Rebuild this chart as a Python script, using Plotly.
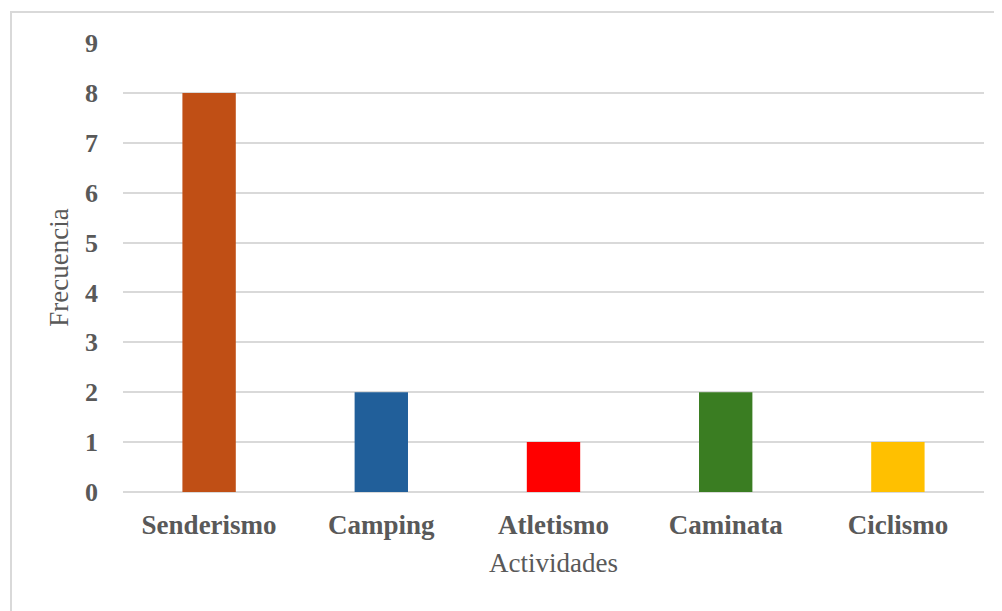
import plotly.graph_objects as go

categorias = ["Senderismo", "Camping", "Atletismo", "Caminata", "Ciclismo"]
frecuencias = [8, 2, 1, 2, 1]
colores = ["#C04F15", "#215F9A", "#FF0000", "#3A7D22", "#FFC000"]
y_ticks = list(range(0, 10))

fig = go.Figure(
    go.Bar(
        x=categorias,
        y=frecuencias,
        marker=dict(color=colores, line=dict(width=0)),
    )
)

fig.update_layout(
    width=994,
    height=603,
    margin=dict(l=115, r=18, t=35, b=119),
    paper_bgcolor="white",
    plot_bgcolor="white",
    bargap=0.69,
    showlegend=False,
    font=dict(family="Liberation Serif, Times New Roman, serif", color="#595959"),
    shapes=[
        dict(
            type="rect", xref="paper", yref="paper",
            x0=(11 - 123) / 861, x1=(1010 - 123) / 861,
            y0=(492 - 620) / 449, y1=(492 - 12) / 449,
            line=dict(color="#D9D9D9", width=2), fillcolor="rgba(0,0,0,0)",
            layer="below",
        )
    ],
)

fig.update_xaxes(
    showgrid=False,
    showline=False,
    ticks="",
    ticklabelstandoff=14,
    tickfont=dict(size=27, family="Liberation Serif", color="#595959", weight="bold"),
    title=dict(text="Actividades", font=dict(size=27, color="#595959"), standoff=14),
)

fig.update_yaxes(
    range=[0, 9],
    tickvals=y_ticks,
    showgrid=True,
    gridcolor="#D9D9D9",
    gridwidth=2,
    zeroline=True,
    zerolinecolor="#D9D9D9",
    zerolinewidth=2,
    showline=False,
    ticks="",
    ticklabelstandoff=24,
    tickfont=dict(size=26, family="Liberation Serif", color="#595959", weight="bold"),
    title=dict(text="Frecuencia", font=dict(size=27, color="#595959"), standoff=8),
)

fig.write_html("out.html")
